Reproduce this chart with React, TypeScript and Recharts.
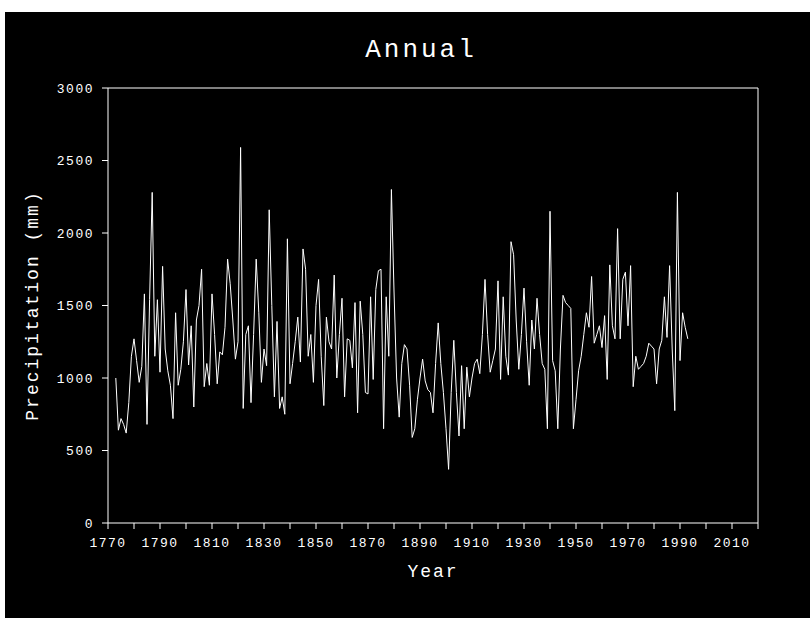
import React from 'react';
import { LineChart, Line, XAxis, YAxis, ReferenceLine } from 'recharts';

const startYear = 1773;

const precipitation: number[] = [
  1000, 640, 720, 680, 620, 830, 1150,
  1270, 1120, 970, 1080, 1580, 680, 1540, 2280, 1150, 1540,
  1040, 1770, 1200, 1050, 950, 720, 1450, 950, 1060, 1250,
  1610, 1090, 1360, 800, 1400, 1500, 1750, 940, 1100, 950,
  1580, 1300, 960, 1180, 1160, 1350, 1820, 1650, 1400, 1130,
  1250, 2590, 790, 1300, 1360, 830, 1300, 1820, 1450, 970,
  1200, 1085, 2160, 1500, 870, 1390, 790, 870, 750, 1960,
  960, 1100, 1250, 1420, 1110, 1890, 1750, 1150, 1300, 970,
  1500, 1680, 1150, 810, 1420, 1250, 1200, 1710, 1000, 1300,
  1550, 870, 1270, 1260, 1070, 1520, 760, 1530, 1300, 900,
  890, 1560, 990, 1610, 1740, 1750, 650, 1560, 1150, 2300,
  1600, 1000, 730, 1100, 1230, 1200, 950, 590, 650, 850,
  1000, 1130, 980, 920, 900, 760, 1100, 1380, 1100, 900,
  650, 370, 900, 1260, 900, 600, 1085, 650, 1075, 870,
  1000, 1100, 1130, 1030, 1300, 1680, 1300, 1040, 1120, 1200,
  1670, 990, 1560, 1150, 1020, 1940, 1850, 1400, 1060, 1300,
  1620, 1250, 950, 1400, 1200, 1550, 1300, 1100, 1060, 650,
  2150, 1120, 1050, 650, 1200, 1570, 1520, 1500, 1480, 650,
  850, 1050, 1150, 1300, 1450, 1350, 1700, 1240, 1300, 1360,
  1210, 1430, 990, 1780, 1360, 1270, 2030, 1270, 1680, 1730,
  1360, 1775, 940, 1150, 1060, 1080, 1100, 1150, 1240, 1220,
  1200, 960, 1200, 1260, 1560, 1280, 1775, 1200, 775, 2280,
  1120, 1450, 1350, 1270,
];

const years: number[] = precipitation.map((_, i) => startYear + i);

const xTicks: number[] = [1770, 1780, 1790, 1800, 1810, 1820, 1830, 1840, 1850, 1860, 1870, 1880, 1890, 1900, 1910, 1920, 1930, 1940, 1950, 1960, 1970, 1980, 1990, 2000, 2010, 2020];
const xTickLabels: number[] = [1770, 1790, 1810, 1830, 1850, 1870, 1890, 1910, 1930, 1950, 1970, 1990, 2010];
const yTicks: number[] = [0, 500, 1000, 1500, 2000, 2500, 3000];

const data = years.map((year, i) => ({ year, value: precipitation[i] }));

const FONT = '"Liberation Mono", "DejaVu Sans Mono", monospace';

const tickStyle = { fill: '#ffffff', fontSize: 13, fontFamily: FONT, letterSpacing: 1.5 };

const YTitle = (props: any) => {
  const vb = props.viewBox || { x: 8, y: 88, width: 100, height: 435 };
  const cx = vb.x + 25;
  const cy = vb.y + vb.height / 2;
  return (
    <text
      x={cx}
      y={cy}
      transform={`rotate(-90 ${cx} ${cy})`}
      textAnchor="middle"
      dominantBaseline="central"
      fill="#ffffff"
      fontFamily={FONT}
      fontSize={18}
      letterSpacing={2}
    >
      Precipitation (mm)
    </text>
  );
};

const XTitle = (props: any) => {
  const vb = props.viewBox || { x: 108, y: 523, width: 650, height: 60 };
  const cx = vb.x + vb.width / 2;
  const cy = vb.y + 49;
  return (
    <text
      x={cx}
      y={cy}
      textAnchor="middle"
      dominantBaseline="central"
      fill="#ffffff"
      fontFamily={FONT}
      fontSize={18}
      letterSpacing={2}
    >
      Year
    </text>
  );
};

export default function App() {
  return (
    <div style={{ position: 'fixed', left: 0, top: 0, width: 810, height: 618, background: '#ffffff', overflow: 'hidden' }}>
      <div style={{ position: 'absolute', left: 5, top: 12, width: 805, height: 606, background: '#000000' }} />
      <div
        style={{
          position: 'absolute',
          left: 271,
          top: 34,
          width: 300,
          height: 32,
          lineHeight: '32px',
          textAlign: 'center',
          color: '#ffffff',
          fontFamily: FONT,
          fontSize: 26,
          letterSpacing: 3,
        }}
      >
        Annual
      </div>
      <div style={{ position: 'absolute', left: 0, top: 0 }}>
        <LineChart width={810} height={618} data={data} margin={{ top: 88, right: 52, bottom: 35, left: 8 }}>
          <XAxis
            dataKey="year"
            type="number"
            domain={[1770, 2020]}
            ticks={xTicks}
            interval={0}
            tickFormatter={(v: number) => (xTickLabels.includes(v) ? String(v) : '')}
            height={60}
            tickSize={6}
            tickMargin={9}
            stroke="#ffffff"
            tick={tickStyle}
            axisLine={{ stroke: '#ffffff' }}
            tickLine={{ stroke: '#ffffff' }}
            label={{ content: (p: any) => <XTitle {...p} /> }}
          />
          <YAxis
            type="number"
            domain={[0, 3000]}
            ticks={yTicks}
            interval={0}
            width={100}
            tickSize={6}
            tickMargin={8}
            stroke="#ffffff"
            tick={tickStyle}
            axisLine={{ stroke: '#ffffff' }}
            tickLine={{ stroke: '#ffffff' }}
            label={{ content: (p: any) => <YTitle {...p} /> }}
          />
          <ReferenceLine y={3000} stroke="#ffffff" />
          <ReferenceLine x={2020} stroke="#ffffff" />
          <Line
            type="linear"
            dataKey="value"
            stroke="#ffffff"
            strokeWidth={1}
            dot={false}
            isAnimationActive={false}
          />
        </LineChart>
      </div>
    </div>
  );
}
